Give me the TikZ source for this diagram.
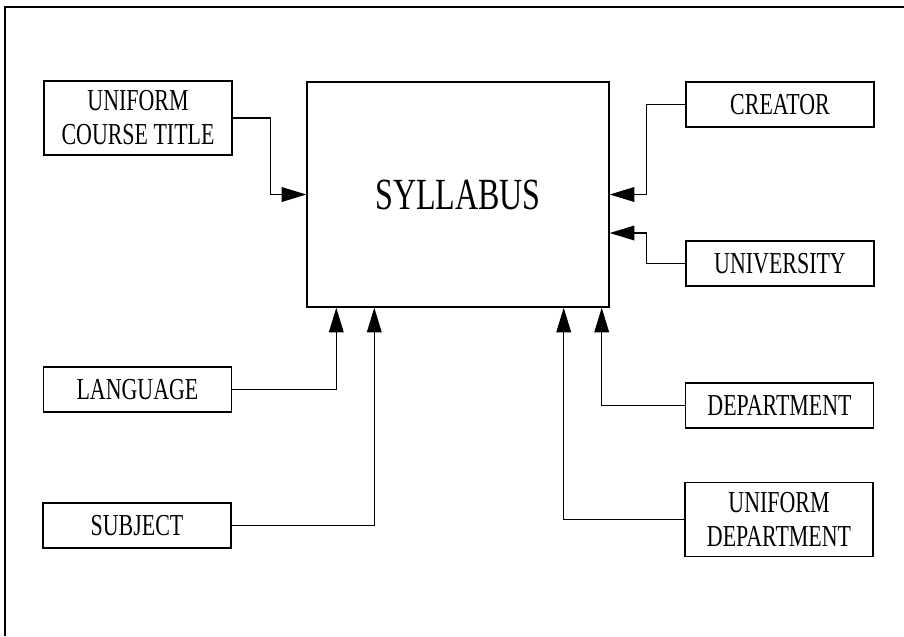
\documentclass[tikz,border=0pt]{standalone}
\usepackage{fontspec}
\usepackage{tikz}
\usetikzlibrary{calc,arrows.meta}
\newfontfamily\boxfont[FakeStretch=0.72]{Liberation Serif}

\begin{document}
\begin{tikzpicture}[x=0.03cm,y=-0.03cm,>={Triangle[length=21pt,width=12.5pt]}]
  \tikzset{
    box/.style={draw=black,line width=1.2pt,minimum width=5.64cm,minimum height=1.35cm,
                inner sep=0pt,align=center,font=\boxfont\fontsize{26}{29}\selectfont},
    tallbox/.style={box,minimum height=2.22cm},
    main/.style={box,minimum width=9.06cm,minimum height=6.75cm,font=\boxfont\fontsize{38}{42}\selectfont},
    link/.style={draw=black,line width=1.1pt},
    frame/.style={draw=black,line width=1.8pt},
  }
  \useasboundingbox (0,0) rectangle (904,636);
  \draw[frame] (5,636) -- (5,7) -- (904,7);

  \node[main] (syl) at (458,194.5) {SYLLABUS};

  \node[tallbox] (uct) at (138,118) {UNIFORM\\COURSE TITLE};
  \node[box] (lang) at (137.5,389.5) {LANGUAGE};
  \node[box] (subj) at (137,525.5) {SUBJECT};

  \node[box] (creator) at (780,104.5) {CREATOR};
  \node[box] (univ) at (780,263.5) {UNIVERSITY};
  \node[box] (dept) at (779.5,405.5) {DEPARTMENT};
  \node[tallbox] (udept) at (779,519.5) {UNIFORM\\DEPARTMENT};

  % entry points on the syllabus box
  \coordinate (sylU) at ($(syl.east)+(0,38.5)$);
  \coordinate (sylL) at ($(syl.south west)+(30,0)$);
  \coordinate (sylS) at ($(syl.south west)+(68,0)$);
  \coordinate (sylD) at ($(syl.south east)+(-8,0)$);
  \coordinate (sylUD) at ($(syl.south east)+(-46,0)$);

  \draw[link,->] (uct.east) -- ++(38,0) |- (syl.west);
  \draw[link,->] (creator.west) -- ++(-39,0) |- (syl.east);
  \draw[link,->] (univ.west) -- ++(-39,0) |- (sylU);
  \draw[link,->] (lang.east) -| (sylL);
  \draw[link,->] (subj.east) -| (sylS);
  \draw[link,->] (dept.west) -| (sylD);
  \draw[link,->] (udept.west) -| (sylUD);
\end{tikzpicture}
\end{document}
